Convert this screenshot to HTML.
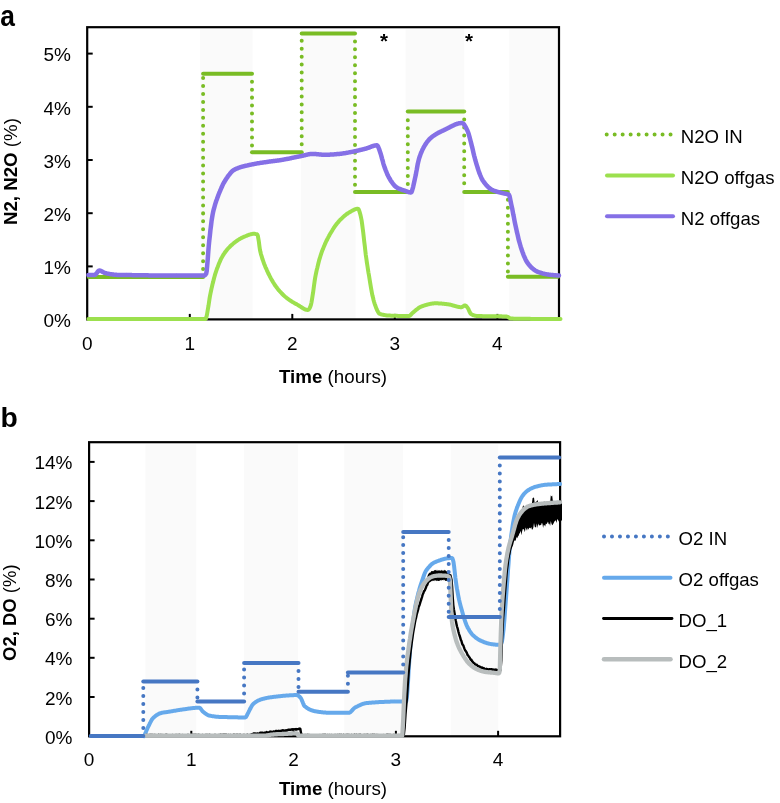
<!DOCTYPE html>
<html><head><meta charset="utf-8"><title>Figure</title>
<style>html,body{margin:0;padding:0;background:#fff;width:780px;height:803px;overflow:hidden;font-family:'Liberation Sans',sans-serif}</style>
</head><body><div style="position:relative;width:780px;height:803px">
<svg width="780" height="803" viewBox="0 0 780 803" style="position:absolute;left:0;top:0"><rect x="0" y="0" width="780" height="803" fill="#ffffff"/><rect x="200" y="29.5" width="52.6" height="289.9" fill="#fafafa"/><rect x="301" y="29.5" width="54.5" height="289.9" fill="#fafafa"/><rect x="405.6" y="29.5" width="58.6" height="289.9" fill="#fafafa"/><rect x="509.3" y="29.5" width="49.7" height="289.9" fill="#fafafa"/><rect x="87.2" y="27.2" width="471.8" height="292.2" fill="none" stroke="#000" stroke-width="2.2"/><line x1="87.2" y1="266.4" x2="92.7" y2="266.4" stroke="#000" stroke-width="2"/><line x1="87.2" y1="213.2" x2="92.7" y2="213.2" stroke="#000" stroke-width="2"/><line x1="87.2" y1="160.0" x2="92.7" y2="160.0" stroke="#000" stroke-width="2"/><line x1="87.2" y1="106.8" x2="92.7" y2="106.8" stroke="#000" stroke-width="2"/><line x1="87.2" y1="53.6" x2="92.7" y2="53.6" stroke="#000" stroke-width="2"/><line x1="189.8" y1="319.4" x2="189.8" y2="313.9" stroke="#000" stroke-width="2"/><line x1="292.3" y1="319.4" x2="292.3" y2="313.9" stroke="#000" stroke-width="2"/><line x1="394.8" y1="319.4" x2="394.8" y2="313.9" stroke="#000" stroke-width="2"/><line x1="497.4" y1="319.4" x2="497.4" y2="313.9" stroke="#000" stroke-width="2"/><polyline points="88.4,319.1 88.9,319.1 89.4,319.1 89.9,319.1 90.4,319.1 90.9,319.1 91.4,319.1 91.9,319.1 92.4,319.1 92.9,319.1 93.4,319.1 93.9,319.1 94.4,319.1 94.9,319.1 95.4,319.1 95.9,319.1 96.4,319.1 96.9,319.1 97.4,319.1 97.9,319.1 98.4,319.1 98.9,319.1 99.4,319.1 99.9,319.1 100.4,319.1 100.9,319.1 101.4,319.1 101.9,319.1 102.4,319.1 102.9,319.1 103.4,319.1 103.9,319.1 104.4,319.1 104.9,319.1 105.4,319.1 105.9,319.1 106.4,319.1 106.9,319.1 107.4,319.1 107.9,319.1 108.4,319.1 108.9,319.1 109.4,319.1 109.9,319.1 110.4,319.1 110.9,319.1 111.4,319.1 111.9,319.1 112.4,319.1 112.9,319.1 113.4,319.1 113.9,319.1 114.4,319.1 114.9,319.1 115.4,319.1 115.9,319.1 116.4,319.1 116.9,319.1 117.4,319.1 117.9,319.1 118.4,319.1 118.9,319.1 119.4,319.1 119.9,319.1 120.4,319.1 120.9,319.1 121.4,319.1 121.9,319.1 122.4,319.1 122.9,319.1 123.4,319.1 123.9,319.1 124.4,319.1 124.9,319.1 125.4,319.1 125.9,319.1 126.4,319.1 126.9,319.1 127.4,319.1 127.9,319.1 128.4,319.1 128.9,319.1 129.4,319.1 129.9,319.1 130.4,319.1 130.9,319.1 131.4,319.1 131.9,319.1 132.4,319.1 132.9,319.1 133.4,319.1 133.9,319.1 134.4,319.1 134.9,319.1 135.4,319.1 135.9,319.1 136.4,319.1 136.9,319.1 137.4,319.1 137.9,319.1 138.4,319.1 138.9,319.1 139.4,319.1 139.9,319.1 140.4,319.1 140.9,319.1 141.4,319.1 141.9,319.1 142.4,319.1 142.9,319.1 143.4,319.1 143.9,319.1 144.4,319.1 144.9,319.1 145.4,319.1 145.9,319.1 146.4,319.1 146.9,319.1 147.4,319.1 147.9,319.1 148.4,319.1 148.9,319.1 149.4,319.1 149.9,319.1 150.4,319.1 150.9,319.1 151.4,319.1 151.9,319.1 152.4,319.1 152.9,319.1 153.4,319.1 153.9,319.1 154.4,319.1 154.9,319.1 155.4,319.1 155.9,319.1 156.4,319.1 156.9,319.1 157.4,319.1 157.9,319.1 158.4,319.1 158.9,319.1 159.4,319.1 159.9,319.1 160.4,319.1 160.9,319.1 161.4,319.1 161.9,319.1 162.4,319.1 162.9,319.1 163.4,319.1 163.9,319.1 164.4,319.1 164.9,319.1 165.4,319.1 165.9,319.1 166.4,319.1 166.9,319.1 167.4,319.1 167.9,319.1 168.4,319.1 168.9,319.1 169.4,319.1 169.9,319.1 170.4,319.1 170.9,319.1 171.4,319.1 171.9,319.1 172.4,319.1 172.9,319.1 173.4,319.1 173.9,319.1 174.4,319.1 174.9,319.1 175.4,319.1 175.9,319.1 176.4,319.1 176.9,319.1 177.4,319.1 177.9,319.1 178.4,319.1 178.9,319.1 179.4,319.1 179.9,319.1 180.4,319.1 180.9,319.1 181.4,319.1 181.9,319.1 182.4,319.1 182.9,319.1 183.4,319.1 183.9,319.1 184.4,319.1 184.9,319.1 185.4,319.1 185.9,319.1 186.4,319.1 186.9,319.1 187.4,319.1 187.9,319.1 188.4,319.1 188.9,319.1 189.4,319.1 189.9,319.1 190.4,319.1 190.9,319.1 191.4,319.1 191.9,319.1 192.4,319.1 192.9,319.1 193.4,319.1 193.9,319.1 194.4,319.1 194.9,319.1 195.4,319.1 195.9,319.1 196.4,319.1 196.9,319.1 197.4,319.1 197.9,319.1 198.4,319.1 198.9,319.1 199.4,319.1 199.9,319.1 200.4,319.1 200.9,319.1 201.4,319.1 201.9,319.1 202.4,319.1 202.9,319.1 203.4,319.1 203.9,319.1 204.4,319.1 204.9,319.1 205.4,319.1 205.9,318.6 206.4,317.1 206.9,315.0 207.4,312.2 207.9,309.1 208.5,305.7 209.0,302.2 209.5,298.9 210.0,295.9 210.5,293.3 211.0,291.0 211.5,288.7 212.0,286.5 212.5,284.3 213.1,282.1 213.6,280.0 214.1,278.0 214.6,276.2 215.1,274.4 215.6,272.8 216.1,271.3 216.6,269.8 217.1,268.4 217.7,267.0 218.2,265.6 218.7,264.3 219.2,263.1 219.7,261.9 220.2,260.7 220.7,259.6 221.2,258.5 221.8,257.5 222.3,256.6 222.8,255.7 223.3,254.9 223.8,254.1 224.3,253.4 224.8,252.6 225.4,251.9 225.9,251.2 226.4,250.6 226.9,249.9 227.4,249.3 227.9,248.7 228.4,248.2 229.0,247.6 229.5,247.1 230.0,246.5 230.5,246.0 231.0,245.5 231.5,245.1 232.1,244.6 232.6,244.2 233.1,243.7 233.6,243.3 234.1,242.9 234.6,242.5 235.1,242.1 235.6,241.7 236.2,241.3 236.7,241.0 237.2,240.6 237.7,240.3 238.2,239.9 238.7,239.6 239.2,239.3 239.7,239.0 240.2,238.7 240.7,238.4 241.2,238.1 241.8,237.8 242.3,237.6 242.8,237.3 243.3,237.1 243.8,236.9 244.3,236.7 244.8,236.5 245.3,236.3 245.9,236.0 246.4,235.8 246.9,235.6 247.4,235.4 247.9,235.2 248.4,235.0 248.9,234.8 249.5,234.7 250.0,234.5 250.5,234.3 251.0,234.2 251.5,234.1 252.0,234.0 252.6,233.9 253.1,233.8 253.6,233.8 254.1,233.8 254.6,233.8 255.1,233.9 255.6,234.0 256.2,234.1 256.7,234.2 257.2,234.4 257.8,235.6 258.3,238.3 258.9,241.9 259.4,245.9 259.9,249.5 260.5,252.3 261.0,254.3 261.6,256.1 262.1,257.9 262.6,259.6 263.2,261.1 263.7,262.6 264.2,264.0 264.8,265.4 265.3,266.7 265.8,267.9 266.4,269.1 266.9,270.3 267.4,271.4 267.9,272.5 268.4,273.6 269.0,274.6 269.5,275.7 270.0,276.7 270.5,277.6 271.0,278.6 271.5,279.5 272.0,280.4 272.6,281.3 273.1,282.2 273.6,283.0 274.1,283.8 274.6,284.6 275.1,285.4 275.7,286.1 276.2,286.8 276.7,287.5 277.2,288.2 277.7,288.8 278.2,289.5 278.7,290.1 279.2,290.7 279.8,291.3 280.3,291.8 280.8,292.4 281.3,292.9 281.8,293.5 282.3,294.0 282.8,294.5 283.3,295.0 283.8,295.5 284.3,295.9 284.8,296.4 285.4,296.8 285.9,297.3 286.4,297.7 286.9,298.1 287.4,298.5 287.9,298.9 288.4,299.3 288.9,299.6 289.5,300.0 290.0,300.3 290.5,300.7 291.0,301.0 291.5,301.3 292.0,301.7 292.5,302.0 293.1,302.3 293.6,302.6 294.1,302.9 294.6,303.2 295.1,303.5 295.6,303.8 296.2,304.0 296.7,304.3 297.2,304.6 297.7,304.9 298.2,305.2 298.7,305.5 299.2,305.8 299.7,306.2 300.2,306.5 300.8,306.8 301.3,307.2 301.8,307.5 302.3,307.8 302.8,308.2 303.3,308.5 303.8,308.7 304.3,309.0 304.8,309.3 305.3,309.5 305.9,309.7 306.4,309.8 306.9,309.9 307.4,310.0 307.9,310.0 308.4,309.8 308.9,309.2 309.5,308.4 310.0,307.3 310.5,306.2 311.0,304.6 311.5,302.3 312.0,299.4 312.5,296.1 313.1,292.4 313.6,288.7 314.1,284.9 314.6,281.4 315.1,278.1 315.6,275.4 316.1,273.0 316.6,270.6 317.2,268.3 317.7,266.1 318.2,264.0 318.7,262.0 319.2,260.0 319.8,258.2 320.3,256.5 320.8,254.9 321.3,253.4 321.8,251.9 322.3,250.5 322.9,249.2 323.4,247.9 323.9,246.6 324.4,245.4 324.9,244.2 325.4,243.1 325.9,242.0 326.4,240.9 327.0,239.9 327.5,238.8 328.0,237.9 328.5,236.9 329.0,236.0 329.5,235.0 330.0,234.1 330.5,233.2 331.1,232.4 331.6,231.5 332.1,230.7 332.6,229.8 333.1,229.0 333.6,228.2 334.1,227.5 334.6,226.7 335.1,226.0 335.6,225.3 336.1,224.6 336.7,223.9 337.2,223.3 337.7,222.7 338.2,222.1 338.7,221.5 339.2,220.9 339.7,220.4 340.2,219.8 340.8,219.3 341.3,218.8 341.8,218.3 342.3,217.8 342.8,217.3 343.3,216.8 343.9,216.4 344.4,215.9 344.9,215.5 345.4,215.1 345.9,214.7 346.4,214.3 346.9,213.9 347.5,213.6 348.0,213.2 348.5,212.9 349.0,212.6 349.5,212.3 350.0,212.0 350.5,211.7 351.0,211.4 351.5,211.1 352.0,210.8 352.5,210.5 353.0,210.3 353.5,210.0 354.0,209.8 354.5,209.5 355.0,209.3 355.5,209.1 356.0,209.0 356.5,208.9 357.0,208.8 357.5,208.7 358.0,208.7 358.5,209.1 359.0,210.1 359.5,211.6 360.0,213.3 360.5,215.1 361.0,217.4 361.6,220.3 362.1,223.9 362.6,227.8 363.2,232.2 363.7,236.7 364.2,241.4 364.8,246.1 365.3,250.6 365.8,255.0 366.4,259.0 366.9,262.6 367.4,265.8 367.9,269.1 368.4,272.3 369.0,275.5 369.5,278.7 370.0,281.9 370.5,284.9 371.0,287.8 371.5,290.6 372.0,293.3 372.5,295.8 373.1,298.1 373.6,300.2 374.1,302.0 374.6,303.6 375.1,305.0 375.6,306.4 376.1,307.8 376.6,309.1 377.1,310.3 377.7,311.3 378.2,312.2 378.7,313.0 379.2,313.5 379.7,313.8 380.2,314.0 380.7,314.2 381.2,314.3 381.8,314.5 382.3,314.6 382.8,314.7 383.3,314.8 383.8,315.0 384.3,315.1 384.9,315.1 385.4,315.2 385.9,315.3 386.4,315.4 386.9,315.4 387.4,315.5 388.0,315.5 388.5,315.5 389.0,315.6 389.5,315.6 390.0,315.6 390.5,315.6 391.0,315.7 391.5,315.7 392.0,315.7 392.5,315.7 393.0,315.7 393.5,315.7 394.0,315.8 394.5,315.8 395.0,315.8 395.5,315.8 396.0,315.8 396.5,315.8 397.0,315.8 397.5,315.9 398.0,315.9 398.5,315.9 399.0,315.9 399.5,315.9 400.0,315.9 400.5,315.9 401.0,315.9 401.5,315.9 402.0,315.9 402.5,316.0 403.0,316.0 403.5,316.0 404.0,316.0 404.5,316.0 405.0,316.0 405.5,316.0 406.0,316.0 406.5,316.0 407.0,316.0 407.5,316.0 408.0,316.0 408.5,316.0 409.0,316.0 409.5,315.9 410.0,315.6 410.5,315.1 411.1,314.5 411.6,313.9 412.1,313.4 412.6,312.9 413.1,312.5 413.6,312.1 414.1,311.6 414.6,311.2 415.1,310.8 415.6,310.3 416.1,309.9 416.6,309.5 417.2,309.1 417.7,308.7 418.2,308.3 418.7,308.0 419.2,307.6 419.7,307.3 420.2,307.0 420.7,306.8 421.2,306.6 421.7,306.4 422.2,306.2 422.7,306.1 423.2,305.9 423.7,305.7 424.2,305.5 424.7,305.4 425.2,305.2 425.7,305.1 426.2,304.9 426.7,304.8 427.2,304.6 427.7,304.5 428.2,304.4 428.8,304.2 429.3,304.1 429.8,304.0 430.3,303.9 430.8,303.8 431.3,303.7 431.8,303.6 432.3,303.6 432.8,303.5 433.3,303.4 433.8,303.4 434.3,303.3 434.8,303.3 435.3,303.3 435.8,303.3 436.3,303.3 436.8,303.3 437.3,303.3 437.8,303.3 438.3,303.4 438.9,303.4 439.4,303.4 439.9,303.5 440.4,303.5 440.9,303.5 441.4,303.6 441.9,303.6 442.4,303.7 442.9,303.7 443.4,303.8 443.9,303.8 444.4,303.9 444.9,303.9 445.5,304.0 446.0,304.1 446.5,304.1 447.0,304.2 447.5,304.2 448.0,304.3 448.5,304.4 449.0,304.5 449.5,304.5 450.1,304.7 450.6,304.8 451.1,304.9 451.6,305.0 452.1,305.2 452.6,305.3 453.2,305.5 453.7,305.6 454.2,305.8 454.7,305.9 455.2,306.1 455.7,306.2 456.2,306.4 456.8,306.5 457.3,306.6 457.8,306.8 458.3,306.9 458.8,307.0 459.3,307.0 459.9,307.1 460.4,307.2 460.9,307.2 461.4,307.2 461.9,307.1 462.4,306.8 462.9,306.5 463.5,306.1 464.0,305.8 464.5,305.5 465.0,305.4 465.6,305.6 466.2,306.1 466.8,306.8 467.4,307.5 467.9,308.3 468.5,309.3 469.0,310.5 469.5,311.7 470.0,312.7 470.6,313.6 471.1,314.1 471.6,314.4 472.1,314.6 472.6,314.9 473.1,315.1 473.6,315.3 474.1,315.4 474.7,315.6 475.2,315.7 475.7,315.8 476.2,315.9 476.7,316.0 477.2,316.0 477.7,316.0 478.2,316.0 478.7,316.1 479.2,316.1 479.7,316.1 480.2,316.1 480.7,316.1 481.2,316.1 481.7,316.1 482.2,316.1 482.7,316.2 483.2,316.2 483.7,316.2 484.2,316.2 484.8,316.2 485.3,316.2 485.8,316.2 486.3,316.2 486.8,316.2 487.3,316.2 487.8,316.2 488.3,316.2 488.8,316.2 489.3,316.2 489.8,316.2 490.3,316.2 490.8,316.2 491.3,316.2 491.8,316.2 492.3,316.2 492.8,316.2 493.3,316.3 493.8,316.3 494.3,316.3 494.8,316.3 495.3,316.3 495.8,316.3 496.3,316.3 496.8,316.3 497.3,316.3 497.8,316.3 498.3,316.3 498.8,316.3 499.4,316.3 499.9,316.3 500.4,316.3 500.9,316.3 501.4,316.3 501.9,316.4 502.4,316.4 502.9,316.4 503.4,316.4 503.9,316.4 504.4,316.4 504.9,316.4 505.4,316.5 505.9,316.5 506.4,316.5 506.9,316.6 507.5,316.8 508.0,317.1 508.6,317.4 509.1,317.7 509.7,318.1 510.2,318.3 510.8,318.5 511.3,318.6 511.8,318.6 512.3,318.6 512.8,318.6 513.3,318.6 513.8,318.7 514.3,318.7 514.8,318.7 515.3,318.7 515.8,318.7 516.3,318.7 516.8,318.7 517.3,318.7 517.8,318.7 518.3,318.7 518.8,318.7 519.3,318.7 519.8,318.7 520.3,318.8 520.8,318.8 521.3,318.8 521.8,318.8 522.3,318.8 522.8,318.8 523.3,318.8 523.9,318.8 524.4,318.8 524.9,318.8 525.4,318.8 525.9,318.8 526.4,318.8 526.9,318.8 527.4,318.8 527.9,318.8 528.4,318.8 528.9,318.8 529.4,318.8 529.9,318.8 530.4,318.9 530.9,318.9 531.4,318.9 531.9,318.9 532.4,318.9 532.9,318.9 533.4,318.9 533.9,318.9 534.4,318.9 534.9,318.9 535.4,318.9 535.9,318.9 536.4,318.9 536.9,318.9 537.4,318.9 537.9,318.9 538.4,318.9 538.9,318.9 539.4,318.9 539.9,318.9 540.4,318.9 540.9,318.9 541.4,318.9 541.9,318.9 542.4,318.9 542.9,318.9 543.4,318.9 543.9,318.9 544.4,318.9 544.9,318.9 545.4,318.9 545.9,318.9 546.4,318.9 546.9,318.9 547.4,318.9 547.9,318.9 548.5,318.9 549.0,318.9 549.5,318.9 550.0,318.9 550.5,318.9 551.0,318.9 551.5,318.9 552.0,318.9 552.5,318.9 553.0,319.0 553.5,319.0 554.0,319.0 554.5,319.0 555.0,319.0 555.5,319.0 556.0,319.0 556.5,319.0 557.0,319.0 557.5,319.0 558.0,319.0 558.5,319.0 559.0,319.0 559.5,319.0 560.0,319.0 560.5,319.0" fill="none" stroke="#9ce04e" stroke-width="4" stroke-linejoin="round" stroke-linecap="round"/><line x1="88.8" y1="277.0" x2="203.1" y2="277.0" stroke="#79bc24" stroke-width="4" stroke-linecap="round"/><line x1="203.1" y1="73.7" x2="252.0" y2="73.7" stroke="#79bc24" stroke-width="4" stroke-linecap="round"/><line x1="252.0" y1="152.2" x2="301.7" y2="152.2" stroke="#79bc24" stroke-width="4" stroke-linecap="round"/><line x1="301.7" y1="33.4" x2="355.0" y2="33.4" stroke="#79bc24" stroke-width="4" stroke-linecap="round"/><line x1="355.0" y1="191.9" x2="407.8" y2="191.9" stroke="#79bc24" stroke-width="4" stroke-linecap="round"/><line x1="407.8" y1="111.5" x2="464.2" y2="111.5" stroke="#79bc24" stroke-width="4" stroke-linecap="round"/><line x1="464.2" y1="191.9" x2="507.9" y2="191.9" stroke="#79bc24" stroke-width="4" stroke-linecap="round"/><line x1="507.9" y1="276.8" x2="558.0" y2="276.8" stroke="#79bc24" stroke-width="4" stroke-linecap="round"/><line x1="203.1" y1="269.1" x2="203.1" y2="75.7" stroke="#79bc24" stroke-width="4" stroke-linecap="round" stroke-dasharray="0.01 7.95"/><line x1="252.0" y1="81.7" x2="252.0" y2="150.2" stroke="#79bc24" stroke-width="4" stroke-linecap="round" stroke-dasharray="0.01 7.95"/><line x1="301.7" y1="144.2" x2="301.7" y2="35.4" stroke="#79bc24" stroke-width="4" stroke-linecap="round" stroke-dasharray="0.01 7.95"/><line x1="355.0" y1="41.4" x2="355.0" y2="189.9" stroke="#79bc24" stroke-width="4" stroke-linecap="round" stroke-dasharray="0.01 7.95"/><line x1="407.8" y1="184.0" x2="407.8" y2="113.5" stroke="#79bc24" stroke-width="4" stroke-linecap="round" stroke-dasharray="0.01 7.95"/><line x1="464.2" y1="119.5" x2="464.2" y2="189.9" stroke="#79bc24" stroke-width="4" stroke-linecap="round" stroke-dasharray="0.01 7.95"/><line x1="507.9" y1="199.8" x2="507.9" y2="274.8" stroke="#79bc24" stroke-width="4" stroke-linecap="round" stroke-dasharray="0.01 7.95"/><polyline points="88.4,274.9 88.9,274.9 89.5,274.9 90.0,274.9 90.5,274.9 91.0,274.9 91.6,274.9 92.1,274.9 92.6,274.9 93.1,274.9 93.7,274.9 94.2,274.9 94.7,274.9 95.2,274.7 95.7,274.3 96.2,273.8 96.7,273.1 97.3,272.3 97.8,271.6 98.3,271.1 98.8,270.7 99.3,270.5 99.8,270.5 100.3,270.7 100.9,270.9 101.4,271.1 101.9,271.4 102.4,271.7 102.9,272.0 103.4,272.3 104.0,272.6 104.5,272.8 105.0,273.0 105.5,273.1 106.0,273.2 106.5,273.4 107.0,273.5 107.6,273.6 108.1,273.7 108.6,273.8 109.1,273.9 109.6,274.0 110.1,274.1 110.6,274.2 111.1,274.3 111.7,274.3 112.2,274.4 112.7,274.5 113.2,274.6 113.7,274.6 114.2,274.7 114.7,274.7 115.2,274.8 115.8,274.8 116.3,274.8 116.8,274.9 117.3,274.9 117.8,274.9 118.3,274.9 118.8,274.9 119.3,274.9 119.8,274.9 120.3,274.9 120.8,275.0 121.3,275.0 121.8,275.0 122.3,275.0 122.8,275.0 123.3,275.0 123.8,275.0 124.3,275.0 124.8,275.0 125.3,275.0 125.8,275.0 126.3,275.1 126.8,275.1 127.3,275.1 127.8,275.1 128.3,275.1 128.9,275.1 129.4,275.1 129.9,275.1 130.4,275.1 130.9,275.1 131.4,275.1 131.9,275.1 132.4,275.2 132.9,275.2 133.4,275.2 133.9,275.2 134.4,275.2 134.9,275.2 135.4,275.2 135.9,275.2 136.4,275.2 136.9,275.2 137.4,275.2 137.9,275.2 138.4,275.2 138.9,275.2 139.4,275.3 139.9,275.3 140.4,275.3 140.9,275.3 141.4,275.3 141.9,275.3 142.4,275.3 142.9,275.3 143.4,275.3 143.9,275.3 144.4,275.3 144.9,275.3 145.4,275.3 145.9,275.3 146.4,275.3 146.9,275.3 147.4,275.3 147.9,275.3 148.4,275.4 148.9,275.4 149.4,275.4 149.9,275.4 150.5,275.4 151.0,275.4 151.5,275.4 152.0,275.4 152.5,275.4 153.0,275.4 153.5,275.4 154.0,275.4 154.5,275.4 155.0,275.4 155.5,275.4 156.0,275.4 156.5,275.4 157.0,275.4 157.5,275.4 158.0,275.4 158.5,275.4 159.0,275.4 159.5,275.5 160.0,275.5 160.5,275.5 161.0,275.5 161.5,275.5 162.0,275.5 162.5,275.5 163.0,275.5 163.5,275.5 164.0,275.5 164.5,275.5 165.0,275.5 165.5,275.5 166.0,275.5 166.5,275.5 167.0,275.5 167.5,275.5 168.0,275.5 168.5,275.5 169.0,275.5 169.5,275.5 170.0,275.5 170.5,275.5 171.0,275.5 171.6,275.5 172.1,275.5 172.6,275.5 173.1,275.5 173.6,275.5 174.1,275.5 174.6,275.5 175.1,275.5 175.6,275.5 176.1,275.5 176.6,275.6 177.1,275.6 177.6,275.6 178.1,275.6 178.6,275.6 179.1,275.6 179.6,275.6 180.1,275.6 180.6,275.6 181.1,275.6 181.6,275.6 182.1,275.6 182.6,275.6 183.1,275.6 183.6,275.6 184.1,275.6 184.6,275.6 185.1,275.6 185.6,275.6 186.1,275.6 186.6,275.6 187.1,275.6 187.6,275.6 188.1,275.6 188.6,275.6 189.1,275.6 189.6,275.6 190.1,275.6 190.6,275.6 191.1,275.6 191.6,275.6 192.1,275.6 192.6,275.6 193.2,275.6 193.7,275.6 194.2,275.6 194.7,275.6 195.2,275.6 195.7,275.6 196.2,275.6 196.7,275.6 197.2,275.6 197.7,275.6 198.2,275.6 198.7,275.6 199.2,275.6 199.7,275.6 200.2,275.6 200.7,275.6 201.2,275.6 201.7,275.6 202.2,275.6 202.7,275.6 203.2,275.6 203.7,275.6 204.2,275.5 204.7,275.3 205.2,274.8 205.7,274.3 206.2,273.6 206.7,271.0 207.2,265.5 207.8,258.5 208.3,251.3 208.8,245.4 209.3,240.3 209.9,235.2 210.4,230.3 211.0,225.6 211.5,221.4 212.1,217.7 212.6,214.6 213.1,212.1 213.6,209.9 214.2,207.8 214.7,206.0 215.2,204.2 215.7,202.6 216.2,201.0 216.8,199.5 217.3,198.1 217.8,196.7 218.3,195.3 218.8,194.0 219.3,192.7 219.9,191.4 220.4,190.2 220.9,189.0 221.4,187.8 221.9,186.7 222.4,185.6 222.9,184.5 223.4,183.5 224.0,182.6 224.5,181.7 225.0,180.8 225.5,180.0 226.0,179.2 226.5,178.4 227.1,177.6 227.6,176.9 228.1,176.1 228.6,175.4 229.2,174.7 229.7,174.1 230.2,173.4 230.7,172.8 231.3,172.2 231.8,171.7 232.3,171.2 232.8,170.7 233.4,170.3 233.9,170.0 234.4,169.7 234.9,169.4 235.4,169.2 235.9,169.0 236.4,168.7 236.9,168.5 237.4,168.3 237.9,168.1 238.4,167.9 239.0,167.7 239.5,167.5 240.0,167.4 240.5,167.2 241.0,167.0 241.5,166.9 242.0,166.7 242.5,166.6 243.0,166.5 243.5,166.3 244.0,166.2 244.5,166.1 245.0,165.9 245.5,165.8 246.0,165.7 246.5,165.6 247.1,165.5 247.6,165.4 248.1,165.3 248.6,165.1 249.1,165.0 249.6,164.9 250.1,164.8 250.6,164.7 251.1,164.6 251.6,164.5 252.1,164.4 252.6,164.3 253.2,164.2 253.7,164.1 254.2,164.0 254.7,163.9 255.2,163.8 255.7,163.7 256.2,163.6 256.7,163.5 257.3,163.4 257.8,163.3 258.3,163.3 258.8,163.2 259.3,163.1 259.8,163.0 260.3,162.9 260.9,162.8 261.4,162.8 261.9,162.7 262.4,162.6 262.9,162.5 263.4,162.5 263.9,162.4 264.4,162.3 265.0,162.2 265.5,162.2 266.0,162.1 266.5,162.0 267.0,161.9 267.5,161.9 268.0,161.8 268.5,161.7 269.0,161.6 269.5,161.6 270.0,161.5 270.5,161.5 271.0,161.4 271.5,161.3 272.0,161.3 272.5,161.2 273.0,161.1 273.5,161.1 274.0,161.0 274.5,161.0 275.0,160.9 275.5,160.8 276.0,160.8 276.5,160.7 277.0,160.6 277.5,160.6 278.0,160.5 278.5,160.4 279.0,160.4 279.5,160.3 280.0,160.2 280.5,160.1 281.0,160.0 281.5,160.0 282.0,159.9 282.5,159.8 283.0,159.7 283.5,159.6 284.0,159.5 284.5,159.4 285.0,159.3 285.5,159.2 286.0,159.1 286.5,159.1 287.0,159.0 287.5,158.9 288.0,158.8 288.5,158.7 289.0,158.6 289.5,158.5 290.0,158.4 290.5,158.3 291.0,158.2 291.5,158.0 292.0,157.9 292.5,157.8 293.0,157.7 293.5,157.6 294.0,157.5 294.5,157.4 295.0,157.3 295.5,157.2 296.0,157.1 296.5,157.0 297.0,156.9 297.5,156.8 298.0,156.7 298.5,156.6 299.0,156.5 299.5,156.4 300.0,156.3 300.5,156.2 301.0,156.1 301.5,156.0 302.0,155.9 302.5,155.8 303.0,155.7 303.6,155.5 304.1,155.4 304.6,155.3 305.1,155.1 305.6,155.0 306.1,154.9 306.6,154.8 307.2,154.6 307.7,154.5 308.2,154.4 308.7,154.3 309.2,154.2 309.7,154.1 310.2,154.0 310.8,154.0 311.3,153.9 311.8,153.9 312.3,153.9 312.8,153.9 313.3,153.9 313.8,153.9 314.3,154.0 314.8,154.0 315.3,154.0 315.8,154.1 316.3,154.1 316.8,154.2 317.3,154.2 317.8,154.3 318.3,154.3 318.9,154.4 319.4,154.4 319.9,154.5 320.4,154.5 320.9,154.6 321.4,154.6 321.9,154.7 322.4,154.7 322.9,154.7 323.4,154.8 323.9,154.8 324.4,154.8 324.9,154.8 325.4,154.8 325.9,154.8 326.4,154.8 326.9,154.8 327.5,154.8 328.0,154.7 328.5,154.7 329.0,154.7 329.5,154.7 330.0,154.6 330.5,154.6 331.0,154.6 331.5,154.5 332.0,154.5 332.6,154.5 333.1,154.4 333.6,154.4 334.1,154.4 334.6,154.3 335.1,154.3 335.6,154.2 336.1,154.2 336.6,154.1 337.2,154.1 337.7,154.0 338.2,154.0 338.7,153.9 339.2,153.9 339.7,153.9 340.2,153.8 340.7,153.7 341.3,153.7 341.8,153.6 342.3,153.5 342.8,153.5 343.3,153.4 343.8,153.3 344.3,153.2 344.9,153.2 345.4,153.1 345.9,153.0 346.4,152.9 346.9,152.8 347.4,152.7 347.9,152.6 348.5,152.5 349.0,152.4 349.5,152.3 350.0,152.2 350.5,152.1 351.0,152.0 351.5,151.9 352.1,151.8 352.6,151.7 353.1,151.6 353.6,151.5 354.1,151.4 354.6,151.3 355.1,151.2 355.6,151.1 356.1,151.0 356.6,150.9 357.1,150.8 357.6,150.6 358.1,150.5 358.6,150.4 359.1,150.3 359.6,150.2 360.2,150.0 360.7,149.9 361.2,149.8 361.7,149.7 362.2,149.5 362.7,149.4 363.2,149.3 363.7,149.2 364.2,149.0 364.7,148.9 365.2,148.8 365.7,148.6 366.2,148.5 366.7,148.4 367.2,148.2 367.7,148.0 368.2,147.8 368.7,147.6 369.3,147.5 369.8,147.2 370.3,147.0 370.8,146.8 371.3,146.6 371.8,146.4 372.3,146.3 372.8,146.1 373.3,145.9 373.8,145.8 374.4,145.6 374.9,145.5 375.4,145.4 375.9,145.4 376.4,145.3 376.9,145.3 377.4,145.6 377.9,146.3 378.4,147.4 379.0,148.8 379.5,150.3 380.0,151.8 380.5,153.3 381.0,154.8 381.5,156.6 382.0,158.6 382.6,160.5 383.1,162.5 383.6,164.3 384.1,165.9 384.6,167.4 385.2,168.9 385.7,170.3 386.3,171.7 386.8,173.0 387.3,174.3 387.9,175.4 388.4,176.5 389.0,177.6 389.5,178.5 390.0,179.3 390.5,180.2 391.0,181.0 391.6,181.7 392.1,182.5 392.6,183.2 393.1,183.9 393.6,184.5 394.1,185.1 394.6,185.7 395.2,186.2 395.7,186.6 396.2,187.1 396.7,187.4 397.2,187.7 397.7,188.0 398.3,188.3 398.8,188.5 399.3,188.8 399.8,189.0 400.4,189.2 400.9,189.4 401.4,189.6 401.9,189.8 402.5,190.0 403.0,190.2 403.5,190.3 404.0,190.5 404.6,190.7 405.1,190.8 405.6,191.0 406.1,191.2 406.7,191.4 407.2,191.6 407.8,191.8 408.3,192.0 408.8,192.1 409.4,192.3 409.9,192.4 410.5,192.5 411.0,192.5 411.5,192.1 412.0,190.9 412.5,189.2 413.1,187.1 413.6,184.8 414.1,182.5 414.6,180.3 415.1,177.9 415.7,175.3 416.2,172.4 416.8,169.4 417.3,166.5 417.8,163.7 418.4,161.2 418.9,159.2 419.4,157.5 420.0,155.9 420.5,154.4 421.0,153.0 421.6,151.7 422.1,150.5 422.6,149.3 423.2,148.3 423.7,147.3 424.2,146.4 424.7,145.6 425.2,144.8 425.7,144.0 426.2,143.2 426.7,142.5 427.2,141.8 427.8,141.1 428.3,140.5 428.8,139.9 429.3,139.4 429.8,138.8 430.3,138.3 430.8,137.9 431.3,137.5 431.8,137.1 432.3,136.7 432.8,136.3 433.3,135.9 433.8,135.6 434.4,135.2 434.9,134.9 435.4,134.6 435.9,134.3 436.4,133.9 436.9,133.6 437.4,133.4 437.9,133.1 438.4,132.8 438.9,132.5 439.4,132.3 439.9,132.0 440.4,131.8 440.9,131.5 441.4,131.3 442.0,131.0 442.5,130.8 443.0,130.5 443.5,130.3 444.0,130.1 444.5,129.8 445.0,129.6 445.5,129.4 446.0,129.1 446.5,128.9 447.0,128.6 447.5,128.4 448.0,128.1 448.5,127.8 449.0,127.6 449.5,127.3 450.0,127.1 450.5,126.8 451.0,126.5 451.5,126.3 452.0,126.0 452.5,125.8 453.0,125.5 453.5,125.3 454.0,125.1 454.5,124.9 455.0,124.6 455.5,124.4 456.0,124.2 456.5,124.1 457.0,123.9 457.5,123.7 458.0,123.6 458.5,123.5 459.0,123.3 459.5,123.2 460.0,123.2 460.5,123.1 461.0,123.0 461.5,123.0 462.0,123.0 462.5,123.1 463.0,123.4 463.5,123.8 464.0,124.4 464.5,125.1 465.0,125.9 465.5,126.8 466.0,127.7 466.5,128.7 467.0,129.8 467.5,130.8 468.0,132.0 468.5,133.4 469.0,135.1 469.5,136.9 470.0,138.8 470.5,140.7 471.0,142.6 471.5,144.6 472.0,146.7 472.6,148.9 473.1,151.2 473.6,153.4 474.1,155.6 474.7,157.7 475.2,159.7 475.7,161.5 476.2,163.2 476.7,164.8 477.2,166.4 477.7,168.0 478.2,169.6 478.7,171.1 479.2,172.6 479.8,174.0 480.3,175.3 480.8,176.5 481.3,177.7 481.8,178.7 482.3,179.7 482.8,180.5 483.3,181.2 483.8,181.9 484.3,182.6 484.8,183.3 485.3,183.9 485.8,184.5 486.3,185.1 486.8,185.7 487.3,186.2 487.8,186.7 488.3,187.2 488.8,187.6 489.3,188.1 489.8,188.5 490.3,188.8 490.8,189.2 491.3,189.5 491.8,189.8 492.3,190.0 492.8,190.2 493.3,190.5 493.8,190.7 494.4,190.9 494.9,191.0 495.4,191.2 495.9,191.4 496.4,191.5 496.9,191.7 497.4,191.8 497.9,192.0 498.5,192.1 499.0,192.2 499.5,192.4 500.0,192.5 500.5,192.6 501.0,192.7 501.5,192.9 502.0,193.0 502.6,193.1 503.1,193.2 503.6,193.4 504.1,193.5 504.6,193.6 505.2,193.7 505.7,193.8 506.2,193.9 506.8,194.0 507.3,194.1 507.8,194.3 508.4,194.5 508.9,194.7 509.5,195.9 510.0,198.3 510.6,201.3 511.2,204.1 511.7,206.5 512.3,209.1 512.8,211.8 513.3,214.6 513.9,217.3 514.4,220.1 514.9,222.8 515.5,225.4 516.0,227.8 516.5,230.1 517.0,232.4 517.6,234.7 518.1,237.0 518.6,239.2 519.1,241.2 519.7,243.2 520.2,245.0 520.7,246.7 521.2,248.2 521.7,249.7 522.2,251.2 522.7,252.6 523.2,253.9 523.7,255.3 524.2,256.5 524.8,257.7 525.3,258.9 525.8,259.9 526.3,260.9 526.8,261.8 527.3,262.6 527.8,263.3 528.3,263.9 528.8,264.6 529.3,265.2 529.8,265.7 530.3,266.3 530.8,266.8 531.3,267.3 531.8,267.8 532.3,268.3 532.8,268.7 533.3,269.1 533.8,269.5 534.3,269.9 534.8,270.2 535.3,270.6 535.8,270.9 536.3,271.1 536.8,271.4 537.3,271.6 537.8,271.8 538.3,272.0 538.8,272.2 539.4,272.4 539.9,272.6 540.4,272.7 540.9,272.9 541.4,273.1 541.9,273.2 542.4,273.4 542.9,273.5 543.5,273.6 544.0,273.8 544.5,273.9 545.0,274.0 545.5,274.1 546.0,274.2 546.5,274.3 547.0,274.4 547.6,274.5 548.1,274.6 548.6,274.6 549.1,274.7 549.6,274.8 550.1,274.8 550.7,274.9 551.2,274.9 551.7,275.0 552.2,275.0 552.7,275.1 553.3,275.1 553.8,275.2 554.3,275.2 554.8,275.3 555.4,275.3 555.9,275.3 556.4,275.4 556.9,275.4 557.4,275.5 558.0,275.5 558.5,275.6 559.0,275.6" fill="none" stroke="#8570e6" stroke-width="4.5" stroke-linejoin="round" stroke-linecap="round"/><line x1="606.7" y1="134.4" x2="670.6" y2="134.4" stroke="#79bc24" stroke-width="4" stroke-linecap="round" stroke-dasharray="0.01 7.97"/><line x1="607" y1="175.4" x2="673" y2="175.4" stroke="#9ce04e" stroke-width="4" stroke-linecap="round"/><line x1="607" y1="216.3" x2="673" y2="216.3" stroke="#8570e6" stroke-width="4" stroke-linecap="round"/><rect x="145.4" y="444.5" width="50.8" height="291.8" fill="#fafafa"/><rect x="244.1" y="444.5" width="53.9" height="291.8" fill="#fafafa"/><rect x="344.3" y="444.5" width="58.7" height="291.8" fill="#fafafa"/><rect x="450.8" y="444.5" width="47.5" height="291.8" fill="#fafafa"/><rect x="89.1" y="442.2" width="471.0" height="294.1" fill="none" stroke="#000" stroke-width="2.2"/><line x1="89.1" y1="697.0" x2="94.6" y2="697.0" stroke="#000" stroke-width="2"/><line x1="89.1" y1="657.8" x2="94.6" y2="657.8" stroke="#000" stroke-width="2"/><line x1="89.1" y1="618.7" x2="94.6" y2="618.7" stroke="#000" stroke-width="2"/><line x1="89.1" y1="579.5" x2="94.6" y2="579.5" stroke="#000" stroke-width="2"/><line x1="89.1" y1="540.3" x2="94.6" y2="540.3" stroke="#000" stroke-width="2"/><line x1="89.1" y1="501.1" x2="94.6" y2="501.1" stroke="#000" stroke-width="2"/><line x1="89.1" y1="461.9" x2="94.6" y2="461.9" stroke="#000" stroke-width="2"/><line x1="191.3" y1="736.3" x2="191.3" y2="730.8" stroke="#000" stroke-width="2"/><line x1="293.6" y1="736.3" x2="293.6" y2="730.8" stroke="#000" stroke-width="2"/><line x1="395.9" y1="736.3" x2="395.9" y2="730.8" stroke="#000" stroke-width="2"/><line x1="498.1" y1="736.3" x2="498.1" y2="730.8" stroke="#000" stroke-width="2"/><polyline points="144.1,736.2 144.7,734.9 145.2,733.6 145.8,732.2 146.3,730.9 146.9,729.6 147.4,728.4 148.0,727.2 148.5,726.2 149.0,725.1 149.5,724.1 150.0,723.0 150.5,722.1 151.0,721.1 151.5,720.2 152.0,719.4 152.5,718.8 153.0,718.2 153.5,717.7 154.0,717.2 154.6,716.7 155.1,716.3 155.6,715.9 156.1,715.5 156.6,715.1 157.2,714.8 157.7,714.5 158.2,714.2 158.7,713.9 159.2,713.7 159.8,713.4 160.3,713.3 160.8,713.1 161.3,713.0 161.8,712.8 162.3,712.7 162.9,712.6 163.4,712.6 163.9,712.5 164.4,712.4 164.9,712.3 165.4,712.2 165.9,712.2 166.4,712.1 167.0,712.0 167.5,712.0 168.0,711.9 168.5,711.8 169.0,711.7 169.5,711.6 170.0,711.5 170.5,711.5 171.1,711.4 171.6,711.3 172.1,711.2 172.6,711.1 173.1,711.0 173.6,710.9 174.1,710.8 174.6,710.7 175.2,710.7 175.7,710.6 176.2,710.5 176.7,710.4 177.2,710.3 177.7,710.2 178.2,710.1 178.7,710.1 179.3,710.0 179.8,709.9 180.3,709.8 180.8,709.8 181.3,709.7 181.8,709.6 182.3,709.6 182.8,709.5 183.3,709.4 183.9,709.3 184.4,709.3 184.9,709.2 185.4,709.1 185.9,709.0 186.4,709.0 186.9,708.9 187.4,708.8 187.9,708.7 188.5,708.6 189.0,708.6 189.5,708.5 190.0,708.4 190.5,708.4 191.0,708.3 191.5,708.2 192.0,708.2 192.6,708.1 193.1,708.1 193.6,708.0 194.1,708.0 194.6,707.9 195.1,707.9 195.6,707.8 196.1,707.8 196.6,707.8 197.2,707.7 197.7,707.7 198.2,707.7 198.7,707.7 199.2,707.7 199.8,707.9 200.3,708.3 200.9,709.0 201.4,709.8 202.0,710.5 202.5,711.3 203.1,711.8 203.6,712.2 204.2,712.6 204.7,713.0 205.2,713.4 205.8,713.8 206.3,714.1 206.8,714.5 207.4,714.8 207.9,715.0 208.4,715.3 209.0,715.5 209.5,715.6 210.0,715.7 210.5,715.8 211.0,715.9 211.5,716.0 212.1,716.1 212.6,716.2 213.1,716.3 213.6,716.3 214.1,716.4 214.6,716.5 215.1,716.5 215.6,716.6 216.1,716.7 216.6,716.7 217.1,716.7 217.7,716.8 218.2,716.8 218.7,716.9 219.2,716.9 219.7,716.9 220.2,716.9 220.7,716.9 221.2,717.0 221.7,717.0 222.2,717.0 222.7,717.0 223.2,717.0 223.7,717.0 224.2,717.1 224.7,717.1 225.2,717.1 225.7,717.1 226.3,717.1 226.8,717.1 227.3,717.1 227.8,717.2 228.3,717.2 228.8,717.2 229.3,717.2 229.8,717.2 230.3,717.2 230.8,717.2 231.3,717.2 231.8,717.3 232.3,717.3 232.8,717.3 233.3,717.3 233.8,717.3 234.3,717.3 234.8,717.3 235.3,717.3 235.8,717.3 236.3,717.3 236.8,717.3 237.3,717.3 237.8,717.4 238.3,717.4 238.8,717.4 239.4,717.4 239.9,717.4 240.4,717.4 240.9,717.4 241.4,717.4 241.9,717.4 242.4,717.4 242.9,717.4 243.4,717.4 243.9,717.4 244.4,717.4 244.9,717.4 245.4,717.4 245.9,717.1 246.4,716.3 247.0,715.3 247.5,714.1 248.0,713.1 248.5,712.2 249.0,711.2 249.5,710.2 250.0,709.1 250.6,708.1 251.1,707.1 251.6,706.2 252.1,705.4 252.6,704.7 253.1,704.1 253.6,703.6 254.1,703.2 254.6,702.8 255.2,702.4 255.7,702.0 256.2,701.7 256.7,701.4 257.2,701.1 257.7,700.8 258.2,700.5 258.7,700.3 259.3,700.1 259.8,699.9 260.3,699.7 260.8,699.5 261.3,699.3 261.8,699.2 262.3,699.0 262.8,698.9 263.4,698.8 263.9,698.6 264.4,698.5 264.9,698.4 265.4,698.3 265.9,698.1 266.4,698.0 266.9,697.9 267.5,697.8 268.0,697.7 268.5,697.6 269.0,697.6 269.5,697.5 270.0,697.4 270.5,697.3 271.0,697.2 271.6,697.2 272.1,697.1 272.6,697.0 273.1,697.0 273.6,696.9 274.1,696.8 274.6,696.8 275.1,696.7 275.6,696.7 276.1,696.6 276.6,696.5 277.1,696.5 277.6,696.4 278.1,696.4 278.6,696.3 279.1,696.3 279.6,696.2 280.1,696.2 280.6,696.1 281.1,696.0 281.6,696.0 282.1,695.9 282.6,695.9 283.1,695.8 283.6,695.8 284.1,695.8 284.6,695.7 285.1,695.7 285.7,695.6 286.2,695.6 286.7,695.5 287.2,695.5 287.7,695.5 288.2,695.4 288.7,695.4 289.2,695.4 289.7,695.3 290.2,695.3 290.7,695.3 291.2,695.2 291.7,695.2 292.2,695.2 292.7,695.2 293.2,695.2 293.7,695.1 294.2,695.1 294.7,695.1 295.2,695.1 295.7,695.1 296.2,695.1 296.7,695.1 297.2,695.2 297.8,695.4 298.3,695.7 298.9,696.1 299.4,696.6 300.0,697.1 300.5,697.7 301.0,698.4 301.5,699.4 302.0,700.7 302.6,702.0 303.1,703.3 303.6,704.5 304.1,705.5 304.6,706.1 305.1,706.5 305.6,706.9 306.1,707.3 306.6,707.7 307.1,708.0 307.7,708.4 308.2,708.7 308.7,709.0 309.2,709.3 309.7,709.5 310.2,709.7 310.7,710.0 311.2,710.2 311.7,710.4 312.2,710.5 312.8,710.7 313.3,710.8 313.8,711.0 314.3,711.1 314.8,711.2 315.3,711.3 315.8,711.4 316.3,711.5 316.8,711.6 317.3,711.6 317.8,711.7 318.3,711.8 318.8,711.9 319.4,711.9 319.9,712.0 320.4,712.1 320.9,712.1 321.4,712.2 321.9,712.3 322.4,712.3 322.9,712.4 323.4,712.4 323.9,712.5 324.4,712.5 324.9,712.6 325.4,712.6 325.9,712.6 326.4,712.7 327.0,712.7 327.5,712.7 328.0,712.7 328.5,712.8 329.0,712.8 329.5,712.8 330.0,712.8 330.5,712.8 331.0,712.8 331.5,712.8 332.0,712.8 332.5,712.8 333.1,712.8 333.6,712.8 334.1,712.8 334.6,712.8 335.1,712.8 335.6,712.8 336.1,712.8 336.6,712.8 337.1,712.8 337.7,712.8 338.2,712.8 338.7,712.8 339.2,712.8 339.7,712.8 340.2,712.8 340.7,712.8 341.2,712.8 341.7,712.8 342.3,712.8 342.8,712.8 343.3,712.8 343.8,712.8 344.3,712.8 344.8,712.8 345.3,712.8 345.8,712.8 346.3,712.8 346.9,712.8 347.4,712.8 347.9,712.8 348.4,712.8 348.9,712.8 349.4,712.7 349.9,712.5 350.4,712.1 350.9,711.7 351.4,711.2 351.9,710.6 352.5,710.0 353.0,709.4 353.5,708.9 354.0,708.4 354.5,707.9 355.0,707.6 355.5,707.3 356.0,707.0 356.5,706.8 357.0,706.5 357.5,706.3 358.1,706.0 358.6,705.7 359.1,705.5 359.6,705.3 360.1,705.0 360.6,704.8 361.1,704.6 361.6,704.4 362.1,704.2 362.6,704.0 363.1,703.9 363.6,703.7 364.1,703.6 364.7,703.4 365.2,703.3 365.7,703.2 366.2,703.1 366.7,703.1 367.2,703.0 367.7,703.0 368.2,702.9 368.7,702.9 369.2,702.8 369.7,702.8 370.2,702.7 370.7,702.7 371.2,702.7 371.7,702.6 372.2,702.6 372.7,702.5 373.2,702.5 373.7,702.5 374.2,702.4 374.7,702.4 375.2,702.4 375.7,702.3 376.2,702.3 376.7,702.3 377.2,702.2 377.7,702.2 378.2,702.2 378.7,702.1 379.2,702.1 379.7,702.1 380.2,702.1 380.7,702.0 381.2,702.0 381.7,702.0 382.2,701.9 382.7,701.9 383.2,701.9 383.7,701.9 384.3,701.9 384.8,701.8 385.3,701.8 385.8,701.8 386.3,701.8 386.8,701.8 387.3,701.7 387.8,701.7 388.3,701.7 388.8,701.7 389.3,701.7 389.8,701.7 390.3,701.6 390.8,701.6 391.3,701.6 391.8,701.6 392.3,701.6 392.8,701.6 393.3,701.6 393.8,701.6 394.3,701.6 394.8,701.5 395.3,701.5 395.8,701.5 396.3,701.5 396.8,701.5 397.3,701.5 397.8,701.5 398.3,701.5 398.8,701.5 399.3,701.5 399.8,701.5 400.3,701.5 400.8,701.5 401.3,701.5 401.9,701.6 402.4,701.6 402.9,701.7 403.4,701.7 404.0,701.8 404.5,701.8 405.1,701.8 405.6,701.7 406.2,701.5 406.9,697.6 407.5,690.0 408.1,680.5 408.7,670.0 409.3,660.9 409.9,652.4 410.5,645.0 411.1,638.4 411.8,632.5 412.4,627.2 412.9,623.2 413.4,619.3 413.9,615.6 414.4,612.1 414.9,608.9 415.4,606.0 415.9,603.5 416.4,601.2 416.9,599.1 417.4,597.0 417.9,594.9 418.4,592.7 419.0,590.7 419.5,588.8 420.0,587.0 420.6,585.1 421.2,583.4 421.8,581.7 422.4,580.0 422.9,578.5 423.4,577.0 423.9,575.5 424.4,574.1 424.9,572.8 425.4,571.8 425.9,570.9 426.4,570.2 426.9,569.5 427.4,568.8 427.9,568.2 428.4,567.6 428.9,567.1 429.4,566.5 429.9,566.0 430.4,565.5 430.9,564.9 431.4,564.4 432.0,564.0 432.5,563.6 433.0,563.2 433.6,562.9 434.1,562.6 434.6,562.3 435.2,562.1 435.8,561.8 436.3,561.6 436.8,561.4 437.4,561.2 437.9,561.0 438.4,560.8 438.9,560.6 439.4,560.4 439.9,560.3 440.5,560.1 441.0,559.9 441.5,559.7 442.0,559.6 442.5,559.4 443.0,559.3 443.5,559.2 444.1,559.0 444.6,558.8 445.1,558.7 445.7,558.6 446.2,558.5 446.8,558.4 447.3,558.3 447.8,558.2 448.3,558.2 448.9,558.2 449.4,558.1 449.9,558.1 450.4,558.0 451.0,558.0 451.5,558.0 452.0,558.0 452.5,558.6 453.0,560.1 453.5,562.0 454.1,566.3 454.8,572.4 455.4,578.0 455.9,581.6 456.4,585.1 456.9,588.4 457.5,591.5 458.0,594.4 458.5,597.0 459.0,599.5 459.6,601.9 460.1,604.1 460.7,606.2 461.2,608.2 461.8,610.1 462.3,612.0 462.8,613.8 463.3,615.6 463.8,617.4 464.4,619.1 464.9,620.7 465.4,622.2 465.9,623.6 466.4,624.8 466.9,625.9 467.4,627.0 467.9,628.0 468.5,628.9 469.0,629.8 469.5,630.7 470.0,631.5 470.5,632.3 471.1,633.0 471.6,633.7 472.1,634.3 472.6,634.8 473.1,635.3 473.6,635.8 474.2,636.3 474.7,636.7 475.2,637.2 475.7,637.6 476.2,638.0 476.7,638.3 477.3,638.7 477.8,639.0 478.3,639.4 478.8,639.7 479.3,640.0 479.8,640.3 480.4,640.5 480.9,640.8 481.4,641.0 481.9,641.2 482.4,641.4 483.0,641.7 483.5,641.9 484.0,642.1 484.5,642.3 485.0,642.5 485.6,642.7 486.1,642.8 486.6,643.0 487.1,643.2 487.7,643.3 488.2,643.5 488.7,643.6 489.2,643.7 489.7,643.8 490.3,643.9 490.8,644.0 491.3,644.1 491.8,644.2 492.3,644.2 492.8,644.3 493.3,644.4 493.8,644.4 494.3,644.5 494.8,644.6 495.3,644.6 495.8,644.7 496.3,644.7 496.8,644.7 497.3,644.8 497.8,644.8 498.3,644.8 498.8,644.8 499.3,644.7 499.9,644.5 500.4,644.1 501.0,643.6 501.5,643.0 502.0,641.4 502.5,638.3 503.0,634.3 503.5,630.0 504.0,624.9 504.5,618.6 505.0,611.8 505.5,605.0 506.0,598.4 506.5,591.6 507.0,584.8 507.5,578.0 508.0,570.7 508.6,563.2 509.1,556.1 509.6,550.0 510.2,544.1 510.8,538.9 511.4,534.2 512.0,530.0 512.5,526.6 513.0,523.4 513.6,520.4 514.1,517.8 514.6,515.5 515.2,513.4 515.7,511.5 516.3,509.8 516.8,508.3 517.4,506.8 517.9,505.4 518.5,504.0 519.0,502.8 519.5,501.6 520.0,500.4 520.5,499.4 521.0,498.4 521.5,497.5 522.0,496.6 522.6,495.8 523.1,495.1 523.7,494.4 524.2,493.7 524.8,493.1 525.3,492.6 525.8,492.1 526.3,491.6 526.9,491.2 527.4,490.8 527.9,490.4 528.5,490.1 529.0,489.7 529.5,489.4 530.0,489.1 530.5,488.8 531.1,488.5 531.6,488.3 532.1,488.0 532.6,487.8 533.2,487.6 533.7,487.4 534.2,487.2 534.7,487.0 535.2,486.9 535.7,486.7 536.2,486.6 536.7,486.5 537.3,486.3 537.8,486.2 538.3,486.1 538.8,485.9 539.3,485.8 539.8,485.7 540.3,485.6 540.8,485.5 541.3,485.4 541.8,485.3 542.3,485.2 542.9,485.1 543.4,485.0 543.9,485.0 544.4,484.9 544.9,484.8 545.4,484.8 545.9,484.8 546.4,484.7 546.9,484.7 547.4,484.6 547.9,484.6 548.4,484.6 548.9,484.5 549.5,484.5 550.0,484.5 550.5,484.4 551.0,484.4 551.5,484.4 552.0,484.4 552.5,484.3 553.0,484.3 553.5,484.3 554.0,484.3 554.5,484.3 555.0,484.2 555.5,484.2 556.0,484.2 556.6,484.2 557.1,484.1 557.6,484.1 558.1,484.1 558.6,484.1 559.1,484.1 559.6,484.0 560.1,484.0" fill="none" stroke="#66a9eb" stroke-width="4" stroke-linejoin="round" stroke-linecap="round"/><polyline points="146.0,735.1 146.6,735.0 147.2,735.4 147.8,734.9 148.4,735.3 149.0,735.2 149.6,734.9 150.2,735.3 150.8,734.8 151.4,735.2 152.0,734.9 152.6,734.9 153.2,735.2 153.8,735.6 154.4,734.9 155.0,735.0 155.6,735.4 156.2,735.7 156.8,735.4 157.4,735.2 158.0,735.8 158.6,734.8 159.2,735.6 159.8,735.1 160.4,734.9 161.0,734.9 161.6,735.1 162.2,735.6 162.8,735.0 163.4,735.4 164.0,735.4 164.6,735.2 165.2,735.3 165.8,734.8 166.4,734.8 167.0,735.0 167.6,735.5 168.2,735.2 168.8,735.1 169.4,735.4 170.0,735.2 170.6,735.1 171.2,735.6 171.8,735.5 172.4,735.0 173.0,735.4 173.6,735.3 174.2,735.7 174.8,735.5 175.4,735.1 176.0,735.8 176.6,734.9 177.2,735.2 177.8,735.5 178.4,734.9 179.0,735.3 179.6,734.8 180.2,735.4 180.8,735.5 181.4,735.4 182.0,735.7 182.6,735.1 183.2,735.5 183.8,735.4 184.4,735.4 185.0,735.2 185.6,735.6 186.2,735.7 186.8,735.2 187.4,735.4 188.0,734.8 188.6,735.5 189.2,735.4 189.8,735.8 190.4,735.6 191.0,735.1 191.6,735.2 192.2,735.4 192.8,734.8 193.4,735.2 194.0,734.9 194.6,734.9 195.2,734.8 195.8,735.5 196.4,734.9 197.0,735.0 197.6,735.2 198.2,735.6 198.8,734.8 199.4,735.2 200.0,735.3 200.6,735.7 201.2,735.6 201.8,735.6 202.4,735.0 203.0,735.2 203.6,735.1 204.2,735.6 204.8,735.7 205.4,734.9 206.0,734.9 206.6,735.0 207.2,735.0 207.8,735.2 208.4,735.4 209.0,735.0 209.6,734.8 210.2,735.2 210.8,735.1 211.4,735.3 212.0,735.7 212.6,735.4 213.2,735.3 213.8,735.4 214.4,735.4 215.0,734.8 215.6,735.7 216.2,735.5 216.8,735.6 217.4,735.6 218.0,735.1 218.6,735.2 219.2,734.9 219.8,735.4 220.4,734.8 221.0,734.8 221.6,735.0 222.2,734.9 222.8,735.1 223.4,734.8 224.0,734.7 224.6,734.9 225.2,734.8 225.8,735.1 226.4,734.8 227.0,735.6 227.6,735.4 228.2,734.9 228.8,735.0 229.4,735.1 230.0,735.1 230.6,734.9 231.2,735.6 231.8,735.7 232.4,735.2 233.0,735.2 233.6,734.8 234.2,734.8 234.8,735.1 235.4,735.0 236.0,735.6 236.6,734.9 237.2,734.7 237.8,735.7 238.4,735.2 239.0,734.9 239.6,735.3 240.2,734.7 240.8,735.2 241.4,735.7 242.0,735.6 242.6,735.4 243.2,735.0 243.8,735.1 244.4,734.9 245.0,735.5 245.6,735.2 246.2,735.4 246.8,734.9 247.4,734.8 248.1,735.3 248.7,735.4 249.3,735.1 249.9,735.0 250.5,734.9 251.1,734.7 251.7,734.1 252.3,734.2 253.0,734.0 253.6,733.5 254.2,733.4 254.8,733.6 255.4,733.5 256.0,733.8 256.6,734.0 257.2,733.4 257.9,733.8 258.5,733.8 259.1,733.7 259.7,733.0 260.3,732.8 260.9,732.7 261.6,732.6 262.2,732.6 262.8,732.9 263.4,733.1 264.0,733.0 264.6,732.6 265.3,732.7 265.9,732.7 266.5,732.0 267.1,732.5 267.7,732.6 268.3,732.5 269.0,732.4 269.6,732.0 270.2,731.6 270.8,732.2 271.4,731.7 272.0,732.1 272.6,732.2 273.3,731.5 273.9,731.5 274.5,731.9 275.1,731.7 275.7,731.0 276.3,730.9 277.0,730.9 277.6,731.6 278.2,731.4 278.8,730.7 279.4,731.3 280.0,731.4 280.7,731.0 281.3,730.6 281.9,730.8 282.5,730.3 283.1,730.1 283.7,731.0 284.4,730.6 285.0,730.5 285.6,730.8 286.2,730.2 286.8,730.6 287.4,730.5 288.0,729.8 288.7,729.8 289.3,729.7 289.9,729.6 290.5,729.9 291.1,729.5 291.7,729.5 292.4,729.2 293.0,729.9 293.6,729.3 294.2,729.3 294.8,729.4 295.4,729.6 296.0,729.1 296.7,729.6 297.3,729.1 297.9,729.1 298.5,729.1 299.1,728.6 299.7,729.0 300.3,728.8 301.3,734.7 301.9,735.5 302.5,734.9 303.1,735.2 303.7,735.4 304.3,735.3 304.9,735.0 305.5,735.2 306.1,735.3 306.7,735.5 307.3,734.8 307.9,735.3 308.5,735.0 309.1,735.0 309.7,735.5 310.3,735.2 310.9,735.3 311.5,735.5 312.1,735.6 312.7,735.2 313.3,735.3 313.9,735.2 314.6,735.2 315.2,735.4 315.8,735.2 316.4,735.3 317.0,735.2 317.6,735.7 318.2,735.4 318.8,735.6 319.4,735.7 320.0,735.0 320.6,735.3 321.2,735.7 321.8,735.6 322.4,734.9 323.0,734.9 323.6,735.2 324.2,734.8 324.8,735.0 325.4,734.8 326.0,735.4 326.6,735.5 327.2,735.6 327.8,734.9 328.4,735.5 329.0,735.4 329.6,734.9 330.2,735.6 330.8,735.7 331.4,735.0 332.0,735.7 332.6,735.1 333.2,735.2 333.8,735.7 334.4,735.6 335.0,734.9 335.6,735.2 336.2,735.3 336.8,735.1 337.4,734.9 338.0,735.1 338.6,735.5 339.2,734.8 339.9,735.3 340.5,735.2 341.1,734.8 341.7,735.1 342.3,735.4 342.9,735.3 343.5,734.8 344.1,735.7 344.7,735.5 345.3,735.7 345.9,734.9 346.5,735.0 347.1,734.8 347.7,735.5 348.3,735.0 348.9,734.9 349.5,735.2 350.1,735.7 350.7,735.6 351.3,735.0 351.9,734.9 352.5,735.7 353.1,735.3 353.7,735.5 354.3,734.8 354.9,734.8 355.5,735.4 356.1,735.2 356.7,734.8 357.3,735.7 357.9,735.4 358.5,735.6 359.1,734.8 359.7,735.6 360.3,734.8 360.9,735.6 361.5,735.2 362.1,735.1 362.7,735.3 363.3,735.7 363.9,735.0 364.6,734.9 365.2,735.3 365.8,735.0 366.4,734.9 367.0,734.9 367.6,734.8 368.2,735.0 368.8,735.1 369.4,735.1 370.0,735.5 370.6,735.0 371.2,735.3 371.8,734.9 372.4,735.1 373.0,734.8 373.6,735.0 374.2,734.8 374.8,735.5 375.4,735.3 376.0,734.9 376.6,735.2 377.2,735.7 377.8,734.9 378.4,735.6 379.0,735.2 379.6,735.3 380.2,735.6 380.8,735.2 381.4,735.3 382.0,735.4 382.6,735.7 383.2,735.1 383.8,735.6 384.4,735.5 385.0,735.4 385.6,735.2 386.2,735.1 386.8,734.8 387.4,734.9 388.0,734.8 388.6,735.5 389.2,735.0 389.9,734.9 390.5,734.9 391.1,735.6 391.7,735.6 392.3,735.4 392.9,735.1 393.5,735.0 394.1,735.1 394.7,735.2 395.3,734.9 395.9,735.2 396.5,735.0 397.1,735.7 397.7,735.8 398.3,735.3 398.9,735.0 399.5,735.8 400.1,735.1 400.7,735.2 401.3,734.8 401.9,735.2 402.5,735.3 403.1,735.4 403.8,735.2 404.6,727.8 405.5,714.5 406.1,707.4 406.8,699.6 407.6,687.4 408.5,674.5 409.1,667.2 409.7,660.8 410.3,654.7 411.0,648.4 411.8,642.4 412.5,637.3 413.1,633.2 413.7,629.6 414.3,626.4 414.9,622.8 415.5,619.8 416.1,617.6 416.8,614.1 417.4,612.2 418.1,609.7 418.7,606.8 419.4,605.4 420.0,603.4 420.7,601.0 421.4,599.0 422.0,597.1 422.7,594.5 423.4,593.0 424.0,591.2 424.7,590.6 425.4,588.9 426.0,587.5 426.7,585.3 427.3,584.8 427.9,582.8 428.6,581.6 429.2,579.1 429.9,577.7 430.5,577.4 431.1,577.7 431.8,576.5 432.4,578.3 433.0,577.1 433.6,577.0 434.2,576.7 434.9,576.6 435.5,575.9 436.1,574.2 436.8,576.5 437.4,576.3 438.0,575.5 438.6,575.6 439.2,576.0 439.8,574.3 440.5,576.4 441.1,575.1 441.7,574.7 442.3,575.4 442.9,576.9 443.5,575.4 444.2,577.1 444.8,577.9 445.4,576.5 446.0,576.1 446.6,576.4 447.3,577.1 447.9,577.3 448.6,576.9 449.2,576.9 449.9,575.2 450.5,575.4 451.5,579.8 452.1,586.9 452.7,596.7 453.3,605.1 453.9,609.5 454.6,613.5 455.2,617.2 455.8,620.8 456.4,623.8 457.0,626.5 457.7,628.7 458.3,631.3 458.9,633.5 459.5,635.5 460.1,637.1 460.8,639.8 461.4,640.8 462.0,643.2 462.6,644.7 463.3,645.3 463.9,647.2 464.5,648.9 465.1,650.3 465.8,651.1 466.4,652.1 467.0,653.3 467.6,655.1 468.2,655.5 468.9,656.8 469.5,657.3 470.1,658.5 470.7,659.8 471.4,659.7 472.0,661.2 472.6,661.6 473.2,662.6 473.9,663.1 474.5,663.3 475.1,664.5 475.7,664.6 476.4,664.6 477.0,665.0 477.6,665.9 478.2,666.2 478.8,666.3 479.5,666.5 480.1,667.0 480.7,667.2 481.3,668.0 482.0,667.4 482.6,668.3 483.2,668.6 483.8,668.1 484.4,669.1 485.1,669.0 485.7,669.3 486.3,668.8 486.9,669.0 487.6,669.1 488.2,669.8 488.8,669.4 489.4,669.3 490.1,669.4 490.7,669.3 491.3,669.1 491.9,669.2 492.6,670.0 493.2,669.5 493.8,670.2 494.4,669.6 495.1,669.6 495.7,669.9 496.3,669.6 497.0,669.8 497.7,670.4 498.4,670.4 499.1,670.3 499.8,670.1 500.5,670.4 501.3,660.4 502.0,640.0 502.6,628.0 503.2,617.1 503.9,608.8 504.5,600.0 505.1,591.8 505.8,583.7 506.4,576.1 507.0,569.5 507.6,565.1 508.2,559.4 508.8,555.3 509.4,551.3 510.0,547.8 510.7,544.8 511.3,541.8 512.0,538.2 512.7,536.0 513.3,533.5 514.0,532.1 514.6,530.7 515.2,529.4 515.8,528.4 516.4,527.6 517.0,527.5 517.6,526.4 518.2,525.4 518.8,525.5 519.4,525.0 520.0,523.9 520.6,523.1 521.2,522.7 521.9,522.1 522.5,521.8 523.1,521.1 523.8,520.9 524.4,520.5 525.0,520.4 525.6,520.3 526.2,519.9 526.9,519.2 527.5,518.9 528.1,518.7 528.8,518.3 529.4,518.0 530.0,517.6 530.6,517.6 531.2,518.1 531.8,517.1 532.4,517.3 533.0,517.3 533.6,517.4 534.2,516.6 534.8,516.5 535.4,516.4 536.0,516.4 536.6,516.3 537.2,516.7 537.8,516.5 538.4,516.4 539.0,515.5 539.6,515.4 540.2,516.0 540.8,516.1 541.4,515.5 542.0,515.6 542.6,514.9 543.2,515.2 543.8,515.6 544.4,515.4 545.0,515.4 545.6,515.4 546.2,514.6 546.8,514.3 547.4,514.3 548.0,514.6 548.6,514.6 549.2,514.8 549.8,514.5 550.4,514.4 551.0,514.4 551.6,514.0 552.2,514.0 552.9,513.5 553.5,514.1 554.1,513.5 554.7,514.1 555.3,513.8 555.9,513.3 556.5,513.1 557.1,513.1 557.7,513.4 558.3,513.4 558.9,512.8 559.5,512.6 560.1,513.0" fill="none" stroke="#000000" stroke-width="2.4" stroke-linejoin="round"/><polygon points="506.0,560.1 506.7,556.1 507.4,552.6 508.1,548.6 508.8,545.4 509.5,542.9 510.2,540.8 510.9,537.9 511.6,536.8 512.3,533.5 513.0,531.7 513.7,528.1 514.4,526.9 515.1,523.9 515.8,521.9 516.5,519.1 517.2,518.1 517.9,516.5 518.6,515.4 519.3,514.1 520.0,513.2 520.7,511.5 521.4,511.0 522.1,510.5 522.8,506.2 523.5,505.2 524.2,507.7 524.9,507.6 525.6,506.0 526.3,506.8 527.0,505.1 527.7,505.5 528.4,504.6 529.1,505.2 529.8,504.8 530.5,504.2 531.2,504.3 531.9,503.5 532.6,497.9 533.3,497.7 534.0,497.6 534.7,503.0 535.4,502.6 536.1,501.4 536.8,501.4 537.5,499.7 538.2,503.1 538.9,503.2 539.6,502.2 540.3,502.8 541.0,502.3 541.7,502.9 542.4,503.0 543.1,502.4 543.8,502.7 544.5,501.6 545.2,501.7 545.9,502.4 546.6,502.4 547.3,502.4 548.0,501.3 548.7,502.2 549.4,501.6 550.1,502.4 550.8,495.3 551.5,496.6 552.2,495.4 552.9,501.6 553.6,500.8 554.3,501.3 555.0,501.9 555.7,501.2 556.4,502.0 557.1,501.7 557.8,500.8 558.5,501.8 559.2,500.9 559.9,500.8 560.6,501.3 561.3,501.0 562.0,500.5 562.0,520.3 561.3,520.7 560.6,520.1 559.9,520.0 559.2,519.4 558.5,521.7 557.8,518.9 557.1,519.9 556.4,523.0 555.7,520.3 555.0,520.8 554.3,521.7 553.6,523.2 552.9,524.5 552.2,525.2 551.5,523.7 550.8,521.1 550.1,526.1 549.4,523.6 548.7,524.2 548.0,521.6 547.3,523.1 546.6,524.2 545.9,523.4 545.2,526.6 544.5,525.2 543.8,524.8 543.1,528.0 542.4,523.4 541.7,522.9 541.0,525.6 540.3,524.8 539.6,525.5 538.9,525.3 538.2,523.5 537.5,528.3 536.8,523.5 536.1,527.6 535.4,527.2 534.7,526.8 534.0,523.1 533.3,527.7 532.6,529.5 531.9,529.4 531.2,527.1 530.5,528.4 529.8,527.8 529.1,528.0 528.4,529.8 527.7,527.7 527.0,530.8 526.3,529.0 525.6,527.5 524.9,532.2 524.2,530.3 523.5,529.0 522.8,529.1 522.1,531.5 521.4,535.2 520.7,530.7 520.0,532.8 519.3,533.7 518.6,535.8 517.9,536.6 517.2,538.2 516.5,536.9 515.8,540.1 515.1,540.9 514.4,540.3 513.7,542.6 513.0,545.4 512.3,546.9 511.6,549.1 510.9,551.4 510.2,555.3 509.5,556.5 508.8,561.4 508.1,565.2 507.4,567.5 506.7,573.2 506.0,579.8" fill="#000000"/><polygon points="426.5,578.7 427.2,577.3 427.9,574.8 428.6,573.7 429.3,572.4 430.0,572.9 430.7,571.9 431.4,571.0 432.1,571.2 432.8,571.1 433.5,571.3 434.2,570.1 434.9,570.6 435.6,569.8 436.3,571.0 437.0,569.6 437.7,571.0 438.4,570.4 439.1,570.0 439.8,570.7 440.5,570.7 441.2,569.7 441.9,570.7 442.6,570.4 443.3,570.5 444.0,570.7 444.7,569.7 445.4,570.3 446.1,571.2 446.8,571.2 447.5,570.6 448.2,571.4 448.9,571.5 449.6,573.9 450.3,584.9 451.0,602.3 451.0,606.7 450.3,590.8 449.6,583.7 448.9,581.5 448.2,580.9 447.5,580.9 446.8,580.7 446.1,581.1 445.4,580.9 444.7,579.5 444.0,580.7 443.3,579.6 442.6,580.3 441.9,579.7 441.2,580.8 440.5,580.0 439.8,580.7 439.1,580.8 438.4,580.9 437.7,581.0 437.0,580.3 436.3,581.2 435.6,580.0 434.9,581.2 434.2,580.1 433.5,581.0 432.8,580.5 432.1,581.2 431.4,580.9 430.7,582.3 430.0,581.5 429.3,582.5 428.6,582.3 427.9,582.3 427.2,581.5 426.5,582.8" fill="#000000"/><polyline points="146.0,735.6 146.5,735.6 147.0,735.6 147.5,735.6 148.0,735.6 148.5,735.6 149.0,735.6 149.5,735.6 150.0,735.6 150.5,735.6 151.0,735.6 151.5,735.6 152.0,735.6 152.5,735.6 153.0,735.6 153.5,735.6 154.0,735.6 154.5,735.6 155.0,735.6 155.5,735.6 156.0,735.6 156.5,735.6 157.0,735.6 157.5,735.6 158.0,735.6 158.5,735.6 159.0,735.6 159.5,735.6 160.0,735.6 160.5,735.6 161.0,735.6 161.5,735.6 162.0,735.6 162.5,735.6 163.0,735.6 163.5,735.6 164.0,735.6 164.5,735.6 165.0,735.6 165.5,735.6 166.0,735.6 166.5,735.6 167.0,735.6 167.5,735.6 168.0,735.6 168.5,735.6 169.0,735.6 169.5,735.6 170.0,735.6 170.5,735.6 171.0,735.6 171.5,735.6 172.0,735.6 172.5,735.6 173.0,735.6 173.5,735.6 174.0,735.6 174.5,735.6 175.0,735.6 175.5,735.6 176.0,735.6 176.5,735.6 177.0,735.6 177.5,735.6 178.0,735.6 178.5,735.6 179.0,735.6 179.5,735.6 180.0,735.6 180.5,735.6 181.0,735.6 181.5,735.6 182.0,735.6 182.5,735.6 183.0,735.6 183.5,735.6 184.0,735.6 184.5,735.6 185.0,735.6 185.5,735.6 186.0,735.6 186.5,735.6 187.0,735.6 187.5,735.6 188.0,735.6 188.5,735.6 189.0,735.6 189.5,735.6 190.0,735.6 190.5,735.6 191.0,735.6 191.5,735.6 192.0,735.6 192.5,735.6 193.0,735.6 193.5,735.6 194.0,735.6 194.5,735.6 195.0,735.6 195.5,735.6 196.0,735.6 196.5,735.6 197.0,735.6 197.5,735.6 198.0,735.6 198.5,735.6 199.0,735.6 199.5,735.6 200.0,735.6 200.5,735.6 201.0,735.6 201.5,735.6 202.0,735.6 202.5,735.6 203.0,735.6 203.5,735.6 204.0,735.6 204.5,735.6 205.0,735.6 205.5,735.6 206.0,735.6 206.5,735.6 207.0,735.6 207.5,735.6 208.0,735.6 208.5,735.6 209.0,735.6 209.5,735.6 210.0,735.6 210.5,735.6 211.0,735.6 211.5,735.6 212.0,735.6 212.5,735.6 213.0,735.6 213.5,735.6 214.0,735.6 214.5,735.6 215.0,735.6 215.5,735.6 216.0,735.6 216.5,735.6 217.0,735.6 217.5,735.6 218.0,735.6 218.5,735.6 219.0,735.6 219.5,735.6 220.0,735.6 220.5,735.6 221.0,735.6 221.5,735.6 222.0,735.6 222.5,735.6 223.0,735.6 223.5,735.6 224.0,735.6 224.5,735.6 225.0,735.6 225.5,735.6 226.0,735.6 226.5,735.6 227.0,735.6 227.5,735.6 228.0,735.6 228.5,735.6 229.0,735.6 229.5,735.6 230.0,735.6 230.5,735.6 231.0,735.6 231.5,735.6 232.0,735.6 232.5,735.6 233.0,735.6 233.5,735.6 234.0,735.6 234.5,735.6 235.0,735.6 235.5,735.6 236.0,735.6 236.5,735.6 237.0,735.6 237.5,735.6 238.0,735.6 238.5,735.6 239.0,735.6 239.5,735.6 240.0,735.6 240.5,735.6 241.0,735.6 241.5,735.6 242.0,735.6 242.5,735.6 243.0,735.6 243.5,735.6 244.0,735.6 244.5,735.6 245.0,735.6 245.5,735.6 246.0,735.6 246.5,735.6 247.0,735.6 247.5,735.6 248.0,735.6 248.5,735.6 249.0,735.6 249.5,735.6 250.0,735.6 250.5,735.6 251.0,735.6 251.5,735.6 252.0,735.6 252.5,735.6 253.0,735.6 253.5,735.6 254.0,735.6 254.5,735.6 255.0,735.6 255.5,735.6 256.0,735.6 256.5,735.6 257.0,735.6 257.5,735.6 258.0,735.6 258.5,735.6 259.0,735.6 259.5,735.6 260.0,735.6 260.5,735.6 261.0,735.6 261.5,735.6 262.0,735.6 262.5,735.6 263.0,735.6 263.5,735.6 264.0,735.6 264.5,735.6 265.0,735.6 265.5,735.6 266.0,735.6 266.5,735.5 267.0,735.4 267.5,735.4 268.0,735.3 268.5,735.2 269.0,735.1 269.5,735.0 270.0,734.9 270.5,734.8 271.0,734.7 271.5,734.6 272.0,734.6 272.5,734.6 273.0,734.5 273.5,734.5 274.0,734.5 274.5,734.4 275.0,734.4 275.5,734.4 276.0,734.3 276.5,734.3 277.0,734.3 277.5,734.2 278.0,734.2 278.5,734.2 279.0,734.2 279.5,734.2 280.0,734.1 280.5,734.1 281.0,734.1 281.5,734.1 282.0,734.0 282.5,734.0 283.0,734.0 283.5,734.0 284.0,734.0 284.5,733.9 285.0,733.9 285.5,733.9 286.0,733.8 286.5,733.8 287.0,733.8 287.5,733.8 288.0,733.7 288.5,733.7 289.0,733.7 289.5,733.6 290.0,733.6 290.5,733.6 291.0,733.5 291.5,733.5 292.0,733.5 292.5,733.4 293.0,733.4 293.5,733.4 294.0,733.4 294.5,733.3 295.0,733.3 295.5,733.3 296.0,733.3 296.5,733.3 297.0,733.3 297.5,733.9 298.0,735.0 298.5,735.6 299.0,735.6 299.5,735.6 300.0,735.6 300.5,735.6 301.0,735.6 301.5,735.6 302.0,735.6 302.5,735.6 303.0,735.6 303.5,735.6 304.0,735.6 304.5,735.6 305.0,735.6 305.5,735.6 306.0,735.6 306.5,735.6 307.0,735.6 307.5,735.6 308.0,735.6 308.5,735.6 309.0,735.6 309.5,735.6 310.0,735.6 310.5,735.6 311.0,735.6 311.5,735.6 312.0,735.6 312.5,735.6 313.0,735.6 313.5,735.6 314.0,735.6 314.5,735.6 315.0,735.6 315.5,735.6 316.1,735.6 316.6,735.6 317.1,735.6 317.6,735.6 318.1,735.6 318.6,735.6 319.1,735.6 319.6,735.6 320.1,735.6 320.6,735.6 321.1,735.6 321.6,735.6 322.1,735.6 322.6,735.6 323.1,735.6 323.6,735.6 324.1,735.6 324.6,735.6 325.1,735.6 325.6,735.6 326.1,735.6 326.6,735.6 327.1,735.6 327.6,735.6 328.1,735.6 328.6,735.6 329.1,735.6 329.6,735.6 330.1,735.6 330.6,735.6 331.1,735.6 331.6,735.6 332.1,735.6 332.6,735.6 333.1,735.6 333.6,735.6 334.1,735.6 334.6,735.6 335.1,735.6 335.6,735.6 336.1,735.6 336.6,735.6 337.1,735.6 337.6,735.6 338.1,735.6 338.6,735.6 339.1,735.6 339.6,735.6 340.1,735.6 340.6,735.6 341.1,735.6 341.6,735.6 342.1,735.6 342.6,735.6 343.1,735.6 343.6,735.6 344.1,735.6 344.6,735.6 345.1,735.6 345.6,735.6 346.1,735.6 346.6,735.6 347.1,735.6 347.6,735.6 348.1,735.6 348.6,735.6 349.1,735.6 349.6,735.6 350.1,735.6 350.7,735.6 351.2,735.6 351.7,735.6 352.2,735.6 352.7,735.6 353.2,735.6 353.7,735.6 354.2,735.6 354.7,735.6 355.2,735.6 355.7,735.6 356.2,735.6 356.7,735.6 357.2,735.6 357.7,735.6 358.2,735.6 358.7,735.6 359.2,735.6 359.7,735.6 360.2,735.6 360.7,735.6 361.2,735.6 361.7,735.6 362.2,735.6 362.7,735.6 363.2,735.6 363.7,735.6 364.2,735.6 364.7,735.6 365.2,735.6 365.7,735.6 366.2,735.6 366.7,735.6 367.2,735.6 367.7,735.6 368.2,735.6 368.7,735.6 369.2,735.6 369.7,735.6 370.2,735.6 370.7,735.6 371.2,735.6 371.7,735.6 372.2,735.6 372.7,735.6 373.2,735.6 373.7,735.6 374.2,735.6 374.7,735.6 375.2,735.6 375.7,735.6 376.2,735.6 376.7,735.6 377.2,735.6 377.7,735.6 378.2,735.6 378.7,735.6 379.2,735.6 379.7,735.6 380.2,735.6 380.7,735.6 381.2,735.6 381.7,735.6 382.2,735.6 382.7,735.6 383.2,735.6 383.7,735.6 384.2,735.6 384.7,735.6 385.3,735.6 385.8,735.6 386.3,735.6 386.8,735.6 387.3,735.6 387.8,735.6 388.3,735.6 388.8,735.6 389.3,735.6 389.8,735.6 390.3,735.6 390.8,735.6 391.3,735.6 391.8,735.6 392.3,735.6 392.8,735.6 393.3,735.6 393.8,735.6 394.3,735.6 394.8,735.6 395.3,735.6 395.8,735.6 396.3,735.6 396.8,735.6 397.3,735.6 397.8,735.6 398.3,735.6 398.8,735.6 399.3,735.6 399.8,735.6 400.3,735.6 400.8,735.6 401.3,735.6 401.8,735.6 402.3,735.6 403.2,720.0 404.0,700.0 404.5,690.4 405.0,682.0 405.5,675.0 406.0,669.3 406.5,664.4 407.0,660.0 407.7,654.6 408.4,649.7 408.9,645.9 409.4,642.1 410.0,638.5 410.5,635.0 411.0,631.9 411.5,629.0 412.0,626.1 412.5,623.4 413.0,620.7 413.5,618.0 414.0,615.3 414.5,612.7 415.0,610.1 415.5,607.6 416.0,605.2 416.5,603.0 417.1,600.5 417.7,598.1 418.3,595.9 418.9,594.0 419.4,592.5 420.0,591.1 420.5,589.8 421.1,588.6 421.6,587.5 422.2,586.4 422.7,585.5 423.2,584.6 423.8,583.8 424.3,583.0 424.9,582.3 425.4,581.7 426.0,581.1 426.5,580.5 427.0,580.0 427.6,579.5 428.1,579.0 428.7,578.6 429.2,578.2 429.8,577.8 430.3,577.5 430.8,577.2 431.4,577.0 431.9,576.8 432.4,576.6 432.9,576.4 433.4,576.2 434.0,576.1 434.5,576.0 435.0,575.9 435.5,575.8 436.0,575.8 436.5,575.7 437.0,575.6 437.5,575.6 438.0,575.5 438.5,575.5 439.0,575.5 439.5,575.5 440.0,575.5 440.5,575.5 441.0,575.5 441.5,575.5 442.0,575.5 442.5,575.6 443.0,575.6 443.5,575.6 444.0,575.6 444.5,575.7 445.0,575.7 445.5,575.7 446.0,575.8 446.5,575.8 447.0,575.9 447.5,576.0 448.0,576.2 448.5,576.6 449.0,577.0 449.5,578.6 450.0,582.0 450.6,595.0 451.5,617.0 452.0,621.7 452.5,625.2 453.0,627.9 453.5,630.2 454.0,632.3 454.5,634.6 455.1,636.6 455.6,638.5 456.1,640.3 456.6,641.9 457.2,643.4 457.7,644.8 458.2,646.0 458.7,647.2 459.2,648.3 459.7,649.3 460.2,650.3 460.7,651.2 461.2,652.1 461.7,653.0 462.2,653.9 462.7,654.7 463.2,655.5 463.7,656.4 464.2,657.2 464.8,658.0 465.3,658.8 465.8,659.6 466.3,660.3 466.8,661.0 467.3,661.7 467.9,662.3 468.4,662.9 468.9,663.4 469.4,663.9 469.9,664.4 470.4,664.8 470.9,665.3 471.4,665.7 471.9,666.1 472.4,666.5 472.9,666.9 473.4,667.2 473.9,667.6 474.4,667.9 474.9,668.2 475.4,668.5 475.9,668.8 476.4,669.0 476.9,669.2 477.4,669.5 477.9,669.7 478.4,669.9 479.0,670.1 479.5,670.3 480.0,670.5 480.5,670.7 481.0,670.9 481.5,671.0 482.0,671.2 482.5,671.3 483.1,671.5 483.6,671.6 484.1,671.7 484.6,671.8 485.1,671.9 485.6,672.0 486.1,672.0 486.6,672.1 487.1,672.2 487.7,672.2 488.2,672.3 488.7,672.3 489.2,672.4 489.7,672.4 490.2,672.5 490.7,672.5 491.2,672.6 491.8,672.6 492.3,672.6 492.8,672.7 493.3,672.7 493.8,672.8 494.3,672.9 494.8,672.9 495.3,673.0 495.8,673.1 496.3,673.2 496.8,673.2 497.3,673.3 497.8,673.4 498.3,673.4 498.8,673.4 499.3,672.6 499.8,670.0 500.3,650.0 500.8,632.7 501.3,619.0 501.8,609.0 502.3,600.6 502.9,593.3 503.4,586.9 503.9,581.0 504.5,574.8 505.0,569.2 505.6,564.2 506.2,560.0 506.8,556.6 507.3,553.5 507.9,550.8 508.4,548.3 509.0,546.0 509.5,544.1 510.0,542.4 510.5,540.7 511.0,539.2 511.5,537.6 512.0,536.0 512.5,534.2 513.1,532.3 513.6,530.3 514.2,528.3 514.7,526.4 515.2,524.5 515.8,522.8 516.3,521.1 516.9,519.7 517.4,518.5 517.9,517.5 518.4,516.6 518.9,515.7 519.4,514.8 519.9,514.0 520.5,513.3 521.0,512.6 521.5,512.0 522.0,511.4 522.5,510.8 523.0,510.3 523.5,509.8 524.0,509.3 524.5,508.9 525.0,508.4 525.5,508.0 526.1,507.6 526.6,507.3 527.1,506.9 527.6,506.6 528.1,506.4 528.6,506.2 529.1,506.0 529.6,505.9 530.1,505.7 530.6,505.6 531.1,505.4 531.7,505.3 532.2,505.2 532.7,505.1 533.2,504.9 533.7,504.8 534.2,504.7 534.7,504.6 535.2,504.6 535.7,504.5 536.2,504.4 536.7,504.3 537.3,504.2 537.8,504.2 538.3,504.1 538.8,504.0 539.3,504.0 539.8,503.9 540.3,503.8 540.8,503.8 541.3,503.7 541.8,503.7 542.3,503.6 542.9,503.6 543.4,503.5 543.9,503.5 544.4,503.4 544.9,503.4 545.4,503.4 545.9,503.3 546.4,503.3 546.9,503.2 547.5,503.2 548.0,503.2 548.5,503.1 549.0,503.1 549.5,503.0 550.0,503.0 550.5,503.0 551.0,502.9 551.5,502.9 552.0,502.8 552.5,502.8 553.0,502.8 553.5,502.7 554.0,502.7 554.5,502.7 555.0,502.6 555.6,502.6 556.1,502.6 556.6,502.5 557.1,502.5 557.6,502.5 558.1,502.4 558.6,502.4 559.1,502.4 559.6,502.3 560.1,502.3" fill="none" stroke="#b8bdbd" stroke-width="4.3" stroke-linejoin="round" stroke-linecap="round"/><line x1="90.7" y1="735.9" x2="143.3" y2="735.9" stroke="#4677c3" stroke-width="4" stroke-linecap="round"/><line x1="143.3" y1="681.5" x2="197.4" y2="681.5" stroke="#4677c3" stroke-width="4" stroke-linecap="round"/><line x1="197.4" y1="701.5" x2="244.1" y2="701.5" stroke="#4677c3" stroke-width="4" stroke-linecap="round"/><line x1="244.1" y1="663.1" x2="298.5" y2="663.1" stroke="#4677c3" stroke-width="4" stroke-linecap="round"/><line x1="298.5" y1="691.8" x2="347.9" y2="691.8" stroke="#4677c3" stroke-width="4" stroke-linecap="round"/><line x1="347.9" y1="672.5" x2="403.2" y2="672.5" stroke="#4677c3" stroke-width="4" stroke-linecap="round"/><line x1="403.2" y1="532.1" x2="448.7" y2="532.1" stroke="#4677c3" stroke-width="4" stroke-linecap="round"/><line x1="448.7" y1="616.9" x2="499.8" y2="616.9" stroke="#4677c3" stroke-width="4" stroke-linecap="round"/><line x1="499.8" y1="457.4" x2="559.1" y2="457.4" stroke="#4677c3" stroke-width="4" stroke-linecap="round"/><line x1="143.3" y1="727.9" x2="143.3" y2="683.5" stroke="#4677c3" stroke-width="4" stroke-linecap="round" stroke-dasharray="0.01 7.95"/><line x1="197.4" y1="689.5" x2="197.4" y2="699.5" stroke="#4677c3" stroke-width="4" stroke-linecap="round" stroke-dasharray="0.01 7.95"/><line x1="244.1" y1="693.5" x2="244.1" y2="665.1" stroke="#4677c3" stroke-width="4" stroke-linecap="round" stroke-dasharray="0.01 7.95"/><line x1="298.5" y1="671.1" x2="298.5" y2="689.8" stroke="#4677c3" stroke-width="4" stroke-linecap="round" stroke-dasharray="0.01 7.95"/><line x1="347.9" y1="683.8" x2="347.9" y2="674.5" stroke="#4677c3" stroke-width="4" stroke-linecap="round" stroke-dasharray="0.01 7.95"/><line x1="403.2" y1="664.5" x2="403.2" y2="534.1" stroke="#4677c3" stroke-width="4" stroke-linecap="round" stroke-dasharray="0.01 7.95"/><line x1="448.7" y1="540.1" x2="448.7" y2="614.9" stroke="#4677c3" stroke-width="4" stroke-linecap="round" stroke-dasharray="0.01 7.95"/><line x1="499.8" y1="608.9" x2="499.8" y2="459.4" stroke="#4677c3" stroke-width="4" stroke-linecap="round" stroke-dasharray="0.01 7.95"/><line x1="604" y1="536.6" x2="667.9" y2="536.6" stroke="#4677c3" stroke-width="4" stroke-linecap="round" stroke-dasharray="0.01 7.97"/><line x1="604" y1="577.7" x2="670.5" y2="577.7" stroke="#66a9eb" stroke-width="4" stroke-linecap="round"/><line x1="603.5" y1="618.5" x2="672" y2="618.5" stroke="#000000" stroke-width="2.8" stroke-linecap="round"/><line x1="604" y1="659.3" x2="670.5" y2="659.3" stroke="#b8bdbd" stroke-width="4.5" stroke-linecap="round"/></svg><svg width="780" height="803" viewBox="0 0 780 803" style="position:absolute;left:0;top:0;will-change:transform"><g style="font-family:'Liberation Sans',sans-serif" font-size="19" fill="#000"><text x="71" y="327.3" text-anchor="end">0%</text><text x="71" y="274.1" text-anchor="end">1%</text><text x="71" y="220.9" text-anchor="end">2%</text><text x="71" y="167.7" text-anchor="end">3%</text><text x="71" y="114.5" text-anchor="end">4%</text><text x="71" y="61.3" text-anchor="end">5%</text><text x="87.2" y="349.5" text-anchor="middle">0</text><text x="189.8" y="349.5" text-anchor="middle">1</text><text x="292.3" y="349.5" text-anchor="middle">2</text><text x="394.8" y="349.5" text-anchor="middle">3</text><text x="497.4" y="349.5" text-anchor="middle">4</text><text x="333" y="382.7" text-anchor="middle" font-size="18.75"><tspan font-weight="bold">Time</tspan> (hours)</text><text transform="translate(16.5,171.6) rotate(-90)" text-anchor="middle" font-size="18.7"><tspan font-weight="bold">N2, N2O</tspan> (%)</text><text transform="translate(0.3,26.4) scale(0.9,1)" font-weight="bold" font-size="29.3">a</text><text x="384.1" y="48.2" text-anchor="middle" font-weight="bold" font-size="20.5">*</text><text x="468.9" y="48.2" text-anchor="middle" font-weight="bold" font-size="20.5">*</text><text x="680.8" y="143.1" font-size="18.6">N2O IN</text><text x="680.8" y="184.1" font-size="18.6">N2O offgas</text><text x="680.8" y="225.0" font-size="18.6">N2 offgas</text><text x="72.5" y="743.7" text-anchor="end">0%</text><text x="72.5" y="704.5" text-anchor="end">2%</text><text x="72.5" y="665.3" text-anchor="end">4%</text><text x="72.5" y="626.2" text-anchor="end">6%</text><text x="72.5" y="587.0" text-anchor="end">8%</text><text x="72.5" y="547.8" text-anchor="end">10%</text><text x="72.5" y="508.6" text-anchor="end">12%</text><text x="72.5" y="469.4" text-anchor="end">14%</text><text x="89.1" y="765.5" text-anchor="middle">0</text><text x="191.3" y="765.5" text-anchor="middle">1</text><text x="293.6" y="765.5" text-anchor="middle">2</text><text x="395.9" y="765.5" text-anchor="middle">3</text><text x="498.1" y="765.5" text-anchor="middle">4</text><text x="333" y="795.3" text-anchor="middle" font-size="18.75"><tspan font-weight="bold">Time</tspan> (hours)</text><text transform="translate(16.2,612.7) rotate(-90)" text-anchor="middle" font-size="18.5"><tspan font-weight="bold">O2, DO</tspan> (%)</text><text x="0.6" y="426.9" font-weight="bold" font-size="28.3">b</text><text x="678.6" y="545.1" font-size="18.6">O2 IN</text><text x="678.6" y="586.0" font-size="18.6">O2 offgas</text><text x="678.6" y="626.9" font-size="18.6">DO_1</text><text x="678.6" y="667.6" font-size="18.6">DO_2</text></g></svg>
</div></body></html>
